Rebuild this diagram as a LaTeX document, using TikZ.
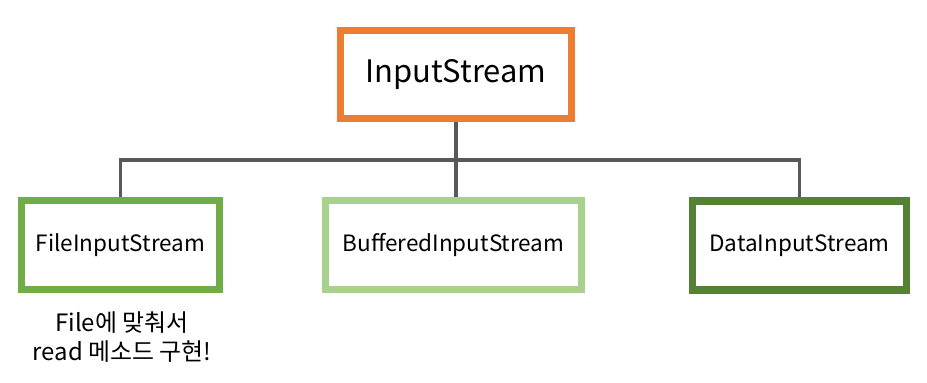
\documentclass[tikz,border=0pt]{standalone}
\usepackage{fontspec}
\setmainfont{Noto Sans CJK KR}
\definecolor{boxorange}{RGB}{237,125,49}
\definecolor{boxgreen}{RGB}{112,173,71}
\definecolor{boxlight}{RGB}{169,209,142}
\definecolor{boxdark}{RGB}{84,130,53}
\definecolor{linkgray}{RGB}{89,89,89}
\usetikzlibrary{positioning}

\begin{document}
\begin{tikzpicture}[
  x=0.025cm, y=-0.025cm,
  root/.style={draw=boxorange,fill=white,line width=5pt,
               minimum width=231*0.025cm,minimum height=88*0.025cm,
               font=\fontsize{22}{26}\selectfont},
  child/.style={draw,fill=white,line width=5pt,
                minimum height=89*0.025cm,
                font=\fontsize{16}{19}\selectfont},
  link/.style={draw=linkgray,line width=2.2pt},
  note/.style={align=center,font=\fontsize{17}{21}\selectfont},
]
  \useasboundingbox (0,0) rectangle (927,382);

  % Root
  \node[root] (input) at (456,74.5) {InputStream};

  % Child nodes
  \node[child,draw=boxgreen,minimum width=198*0.025cm] (file) at (120.5,245) {FileInputStream};
  \node[child,draw=boxlight,minimum width=256*0.025cm] (buffered) at (453.5,245) {BufferedInputStream};
  \node[child,draw=boxdark,minimum width=214*0.025cm] (data) at (799.5,245.5) {DataInputStream};

  % Connectors
  \coordinate (bus) at (456,160);
  \draw[link] (input.south) -- (bus);
  \draw[link] (bus) -| (file.north);
  \draw[link] (bus) -- (bus |- buffered.north);
  \draw[link] (bus) -| (data.north);

  % Note
  \node[note] (filenote) at (122,337) {File에 맞춰서\\read 메소드 구현!};
\end{tikzpicture}
\end{document}
